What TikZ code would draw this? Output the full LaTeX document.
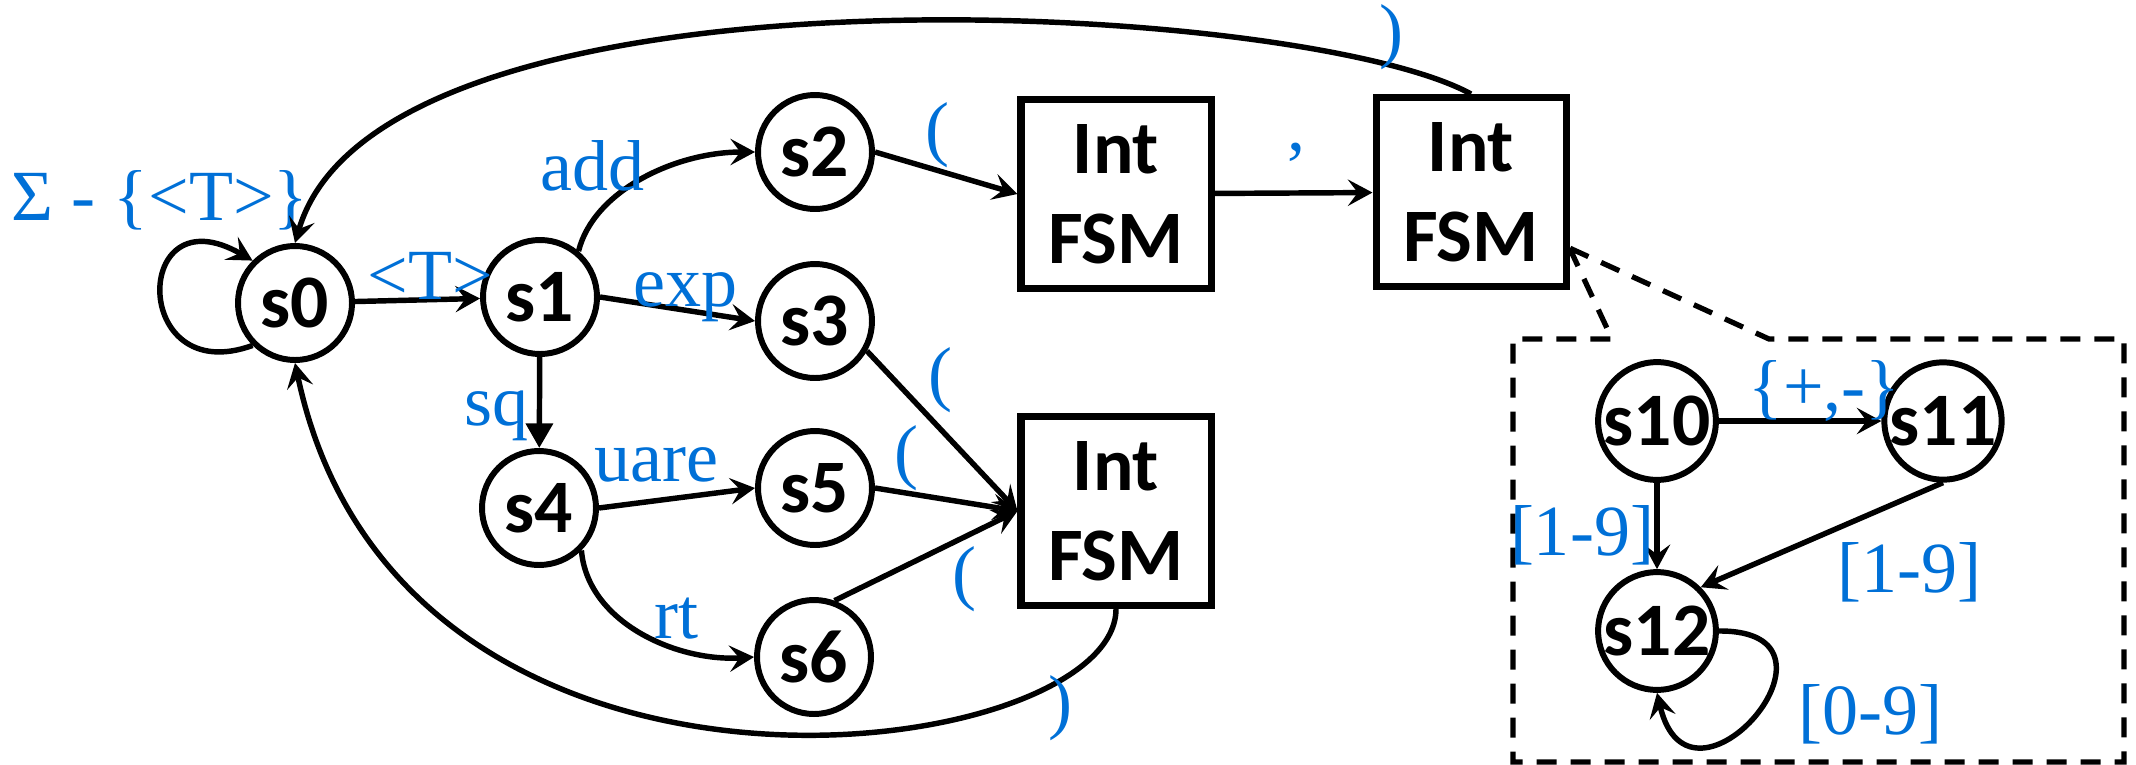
\documentclass[tikz,border=0pt]{standalone}
\usepackage{fontspec}
\usepackage{tikz}
\usetikzlibrary{arrows.meta,calc}
\newfontfamily\calib{Carlito}
\newfontfamily\tnr{Liberation Serif}
\definecolor{lblblue}{RGB}{0,112,215}
\tikzstyle{st} = [circle, draw, line width=1.7pt, minimum size=1.14cm, inner sep=0pt, font=\calib\bfseries\fontsize{21.5}{25.5}\selectfont]
\tikzstyle{fsm} = [rectangle, draw, line width=2pt, minimum width=1.9cm, minimum height=1.89cm, inner sep=0pt, align=center, font=\calib\bfseries\fontsize{21.5}{25.5}\selectfont]
\tikzstyle{lbl} = [text=lblblue, inner sep=0pt, font=\tnr\fontsize{20.5}{24}\selectfont]
\tikzstyle{arr} = [line width=1.55pt, -{Stealth[length=7pt,width=7.5pt,inset=2.8pt]}]
\tikzstyle{zoomline} = [line width=1.5pt, dash pattern=on 0.2cm off 0.14cm]

\begin{document}
\begin{tikzpicture}
\useasboundingbox (0,0) rectangle (21.36,7.64);

    % states of the outer machine
	\node[st] (s0) at (2.95,4.61) {s0};
	\node[st] (s1) at (5.40,4.67) {s1};
	\node[st] (s2) at (8.15,6.12) {s2};
	\node[st] (s3) at (8.15,4.43) {s3};
	\node[st] (s4) at (5.39,2.56) {s4};
	\node[st] (s5) at (8.15,2.76) {s5};
	\node[st] (s6) at (8.14,1.07) {s6};

	\node[fsm] (fsmA) at (11.16,5.70) {Int\\FSM};
	\node[fsm] (fsmB) at (14.71,5.72) {Int\\FSM};
	\node[fsm] (fsmC) at (11.16,2.53) {Int\\FSM};

    % states of the Int FSM
	\node[st] (s10) at (16.57,3.43) {s10};
	\node[st] (s11) at (19.43,3.43) {s11};
	\node[st] (s12) at (16.57,1.33) {s12};

    \draw[arr] (s0.225) .. controls +(200:1.3) and +(150:1.4) .. (s0.135) node[lbl, pos=0.85, xshift=-0.46cm, yshift=0.45cm] (lsig) {Σ - \{<T>\}};
    \draw[arr] (s0) -- (s1) node[lbl, pos=0.6, yshift=0.24cm] (lt) {<T>};
    \draw[arr] (s1.50) .. controls +(0.15,0.6) and +(-0.8,0) .. (s2.west) node[lbl, pos=0.5, xshift=-0.5cm, yshift=0.13cm] (ladd) {add};
    \draw[arr] (s1.east) -- (s3.west) node[lbl, pos=0.55, yshift=0.13cm] (lexp) {exp};
    \draw[line width=1.55pt, -{Triangle[length=7pt,width=7.5pt]}] (s1) -- (s4) node[lbl, pos=0.65, xshift=-0.43cm] (lsq) {sq};
    \draw[arr] (s4.east) -- (s5.west) node[lbl, pos=0.37, yshift=0.355cm] (luare) {uare};
    \draw[arr] (s4.-45) .. controls +(0.06,-0.72) and +(-0.77,-0.05) .. (s6.west) node[lbl, pos=0.5, xshift=0.35cm, yshift=0.14cm] (lrt) {rt};

    \draw[arr] (s2.east) -- (fsmA.west) node[lbl, pos=0.44, yshift=0.35cm] (lpa) {(};
    \draw[arr] (fsmA) -- (fsmB) node[lbl, pos=0.52, yshift=0.41cm] (lcomma) {,};
    \draw[arr] (s3.-30) -- (fsmC.west) node[lbl, pos=0.49, yshift=0.49cm] (lpb) {(};
    \draw[arr] (s5.east) -- (fsmC.west) node[lbl, pos=0.22, yshift=0.35cm] (lpc) {(};
    \draw[arr] (s6.70) -- (fsmC.west) node[lbl, pos=0.71, yshift=-0.425cm] (lpd) {(};

    % back to s0
    \draw[arr] (fsmB.north) .. controls (13.0,7.64) and (3.8,8.14) .. (s0.north) node[lbl, pos=0.1, xshift=-0.07cm, yshift=0.30cm] (lcla) {)};
    \draw[arr] (fsmC.south) .. controls +(0,-1.55) and +(1.05,-4.98) .. (s0.south) node[lbl, pos=0.17, yshift=-0.28cm] (lclb) {)};

    % zoom into the Int FSM
    \coordinate (zsrc) at ([yshift=0.42cm]fsmB.south east);
    \coordinate (zl) at (16.12,4.25);
    \coordinate (zr) at (17.69,4.25);
    \draw[zoomline] (zsrc) -- (zl) -- (15.13,4.25) -- (15.13,0.02) -- (21.24,0.02) -- (21.24,4.25) -- (zr) -- (zsrc);

    \draw[arr] (s10.east) -- (s11.west) node[lbl, pos=0.65, yshift=0.30cm] (lsign) {\{+,-\}};
    \draw[arr] (s10) -- (s12) node[lbl, pos=0.61, xshift=-0.75cm] (lnza) {[1-9]};
    \draw[arr] (s11.south) -- (s12.45) node[lbl, pos=0.3, xshift=0.39cm, yshift=-0.58cm] (lnzb) {[1-9]};
    \draw[arr] (s12.east) .. controls +(1.46,0.01) and +(0.33,-1.41) .. (s12.south) node[lbl, pos=0.5, anchor=west, xshift=0.41cm] (ldig) {[0-9]};
\end{tikzpicture}
\end{document}
